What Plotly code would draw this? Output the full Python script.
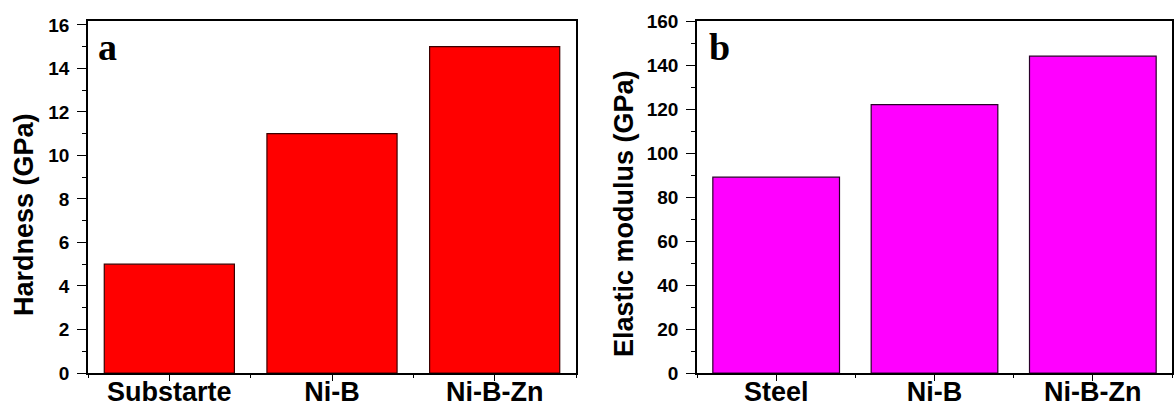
import plotly.graph_objects as go

# ---- data ----
hard_categories = ["Substarte", "Ni-B", "Ni-B-Zn"]
hardness_gpa = [5, 11, 15]
mod_categories = ["Steel", "Ni-B", "Ni-B-Zn"]
modulus_gpa = [89, 122, 144]
hard_ticks = [0, 2, 4, 6, 8, 10, 12, 14, 16]
mod_ticks = [0, 20, 40, 60, 80, 100, 120, 140, 160]

W, H = 1176, 407
FONT = "Liberation Sans, Arial, sans-serif"

def px(x):
    return x / W

def py(y):
    return 1 - y / H

fig = go.Figure()
xa = list(range(len(hard_categories)))
xb = list(range(len(mod_categories)))

fig.add_trace(go.Bar(x=xa, y=hardness_gpa, width=0.8, xaxis="x", yaxis="y",
                     marker=dict(color="#FF0000", line=dict(color="#3a0000", width=1.2)),
                     showlegend=False))
fig.add_trace(go.Bar(x=xb, y=modulus_gpa, width=0.8, xaxis="x2", yaxis="y2",
                     marker=dict(color="#FF00FF", line=dict(color="#2a002a", width=1.2)),
                     showlegend=False))

yt, yb = 21, 373
dom_y = [py(yb), py(yt)]
dom_a = [px(88), px(576)]
dom_b = [px(697), px(1172)]

tickfont_y = dict(family=FONT, size=19, color="black", weight="bold")
tickfont_x = dict(family=FONT, size=27, color="black", weight="bold")

common_x = dict(range=[-0.5, 2.5], showline=True, linecolor="black", linewidth=1.5,
                ticks="outside", ticklen=6, tickwidth=1.3, tickcolor="black",
                showgrid=False, zeroline=False, tickfont=tickfont_x,
                ticklabelstandoff=-12, automargin=False,
                minor=dict(tickvals=[-0.5, 0.5, 1.5, 2.5], ticks="outside", ticklen=3,
                           tickcolor="black", tickwidth=1.2),
                fixedrange=True)
common_y = dict(showline=True, linecolor="black", linewidth=1.5, ticks="outside",
                ticklen=9, tickwidth=1.3, tickcolor="black", showgrid=False,
                zeroline=False, tickfont=tickfont_y, ticklabelstandoff=4,
                automargin=False, fixedrange=True)

fig.update_layout(
    width=W, height=H,
    margin=dict(l=0, r=0, t=0, b=0),
    paper_bgcolor="white", plot_bgcolor="white",
    bargap=0.2,
    xaxis=dict(domain=dom_a, anchor="y", tickvals=xa, ticktext=hard_categories,
               mirror=True, **common_x),
    yaxis=dict(domain=dom_y, anchor="x", range=[0, 16.18], tickvals=hard_ticks,
               minor=dict(dtick=1, ticks="outside", ticklen=4, tickcolor="black", tickwidth=1.2),
               mirror=True, **common_y),
    xaxis2=dict(domain=dom_b, anchor="y2", tickvals=xb, ticktext=mod_categories,
                mirror=True, **common_x),
    yaxis2=dict(domain=dom_y, anchor="x2", range=[0, 160], tickvals=mod_ticks,
                minor=dict(dtick=10, ticks="outside", ticklen=4, tickcolor="black", tickwidth=1.2),
                mirror=True, **common_y),
    annotations=[
        dict(text="Hardness (GPa)", x=px(24), y=py(215), xref="paper", yref="paper",
             textangle=-90, showarrow=False, xanchor="center", yanchor="middle",
             font=dict(family=FONT, size=27, color="black", weight="bold")),
        dict(text="Elastic modulus (GPa)", x=px(624), y=py(214), xref="paper", yref="paper",
             textangle=-90, showarrow=False, xanchor="center", yanchor="middle",
             font=dict(family=FONT, size=27, color="black", weight="bold")),
        dict(text="a", x=px(96), y=py(47), xref="paper", yref="paper", showarrow=False,
             xanchor="left", yanchor="middle",
             font=dict(family="Liberation Serif, Times New Roman, serif", size=38,
                       color="black", weight="bold")),
        dict(text="b", x=px(707), y=py(47), xref="paper", yref="paper", showarrow=False,
             xanchor="left", yanchor="middle",
             font=dict(family="Liberation Serif, Times New Roman, serif", size=38,
                       color="black", weight="bold")),
    ],
)

fig.write_html("out.html", config={"displayModeBar": False},
               post_script="document.body.style.margin='0px';")
